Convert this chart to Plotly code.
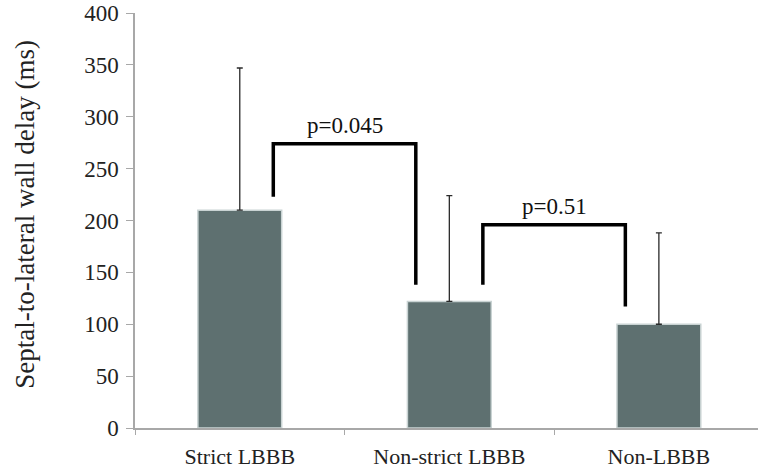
import plotly.graph_objects as go

categories = ["Strict LBBB", "Non-strict LBBB", "Non-LBBB"]
means = [210, 122, 100]
sds = [137, 102, 88]

y_ticks = [0, 50, 100, 150, 200, 250, 300, 350, 400]

# significance brackets: (left category index, right category index)
bracket_pairs = [(0, 1), (1, 2)]
bracket_top = [274, 196]
bracket_left_end = [223, 138]
bracket_right_end = [138, 117]
bracket_labels = ["p=0.045", "p=0.51"]

FONT = "Liberation Serif, Times New Roman, serif"
BAR_COLOR = "#5e7070"
AXIS_COLOR = "#a8a8a8"
x_idx = list(range(len(categories)))

fig = go.Figure()
fig.add_trace(go.Bar(
    x=x_idx, y=means, width=0.4,
    marker=dict(color=BAR_COLOR, line=dict(color="#c9d3d3", width=1.5)),
    error_y=dict(type="data", symmetric=False, array=sds, arrayminus=[0]*len(sds),
                 color="#2a2a2a", thickness=1.3, width=3),
    showlegend=False, hoverinfo="skip",
))

off = 0.16
for (a, b), top, le, re, lab in zip(bracket_pairs, bracket_top, bracket_left_end,
                                      bracket_right_end, bracket_labels):
    xl = a + off
    xr = b - off
    fig.add_trace(go.Scatter(
        x=[xl, xl, xr, xr], y=[le, top, top, re], mode="lines",
        line=dict(color="black", width=3.5), showlegend=False, hoverinfo="skip",
    ))
    fig.add_annotation(x=(xl + xr) / 2, y=top, text=lab, showarrow=False,
                       yanchor="bottom", yshift=4,
                       font=dict(family=FONT, size=23, color="#111111"))

fig.add_annotation(xref="paper", yref="paper", x=(25 - 135) / 623, y=0.514,
                   text="Septal-to-lateral wall delay (ms)", textangle=-90,
                   showarrow=False, xanchor="center", yanchor="middle",
                   font=dict(family=FONT, size=27, color="#222222"))

fig.update_layout(
    width=758, height=473,
    margin=dict(l=135, r=0, t=13, b=45, autoexpand=False),
    plot_bgcolor="white", paper_bgcolor="white",
    font=dict(family=FONT, size=21, color="#222222"),
    bargap=0.6,
)
fig.update_xaxes(
    range=[-0.5, 2.473], tickvals=x_idx, ticktext=categories,
    showline=True, linecolor=AXIS_COLOR, linewidth=1.5,
    ticks="", showgrid=False, zeroline=False, automargin=False,
    ticklabelstandoff=8,
    minor=dict(tickvals=[-0.5, 0.5, 1.5], ticks="outside", ticklen=5,
               tickcolor=AXIS_COLOR, tickwidth=1.2, showgrid=False),
    tickfont=dict(family=FONT, size=22, color="#222222"),
)
fig.update_yaxes(
    range=[0, 400], tickvals=y_ticks,
    showline=True, linecolor=AXIS_COLOR, linewidth=1.5,
    ticks="outside", ticklen=7, tickcolor=AXIS_COLOR, tickwidth=1.2,
    showgrid=False, zeroline=False, automargin=False,
    ticklabelstandoff=3,
    tickfont=dict(family=FONT, size=23, color="#222222"),
)

fig.write_html(
    "out.html",
    config={"displayModeBar": False},
    post_script="document.body.style.margin='0';document.body.style.overflow='hidden';",
)
